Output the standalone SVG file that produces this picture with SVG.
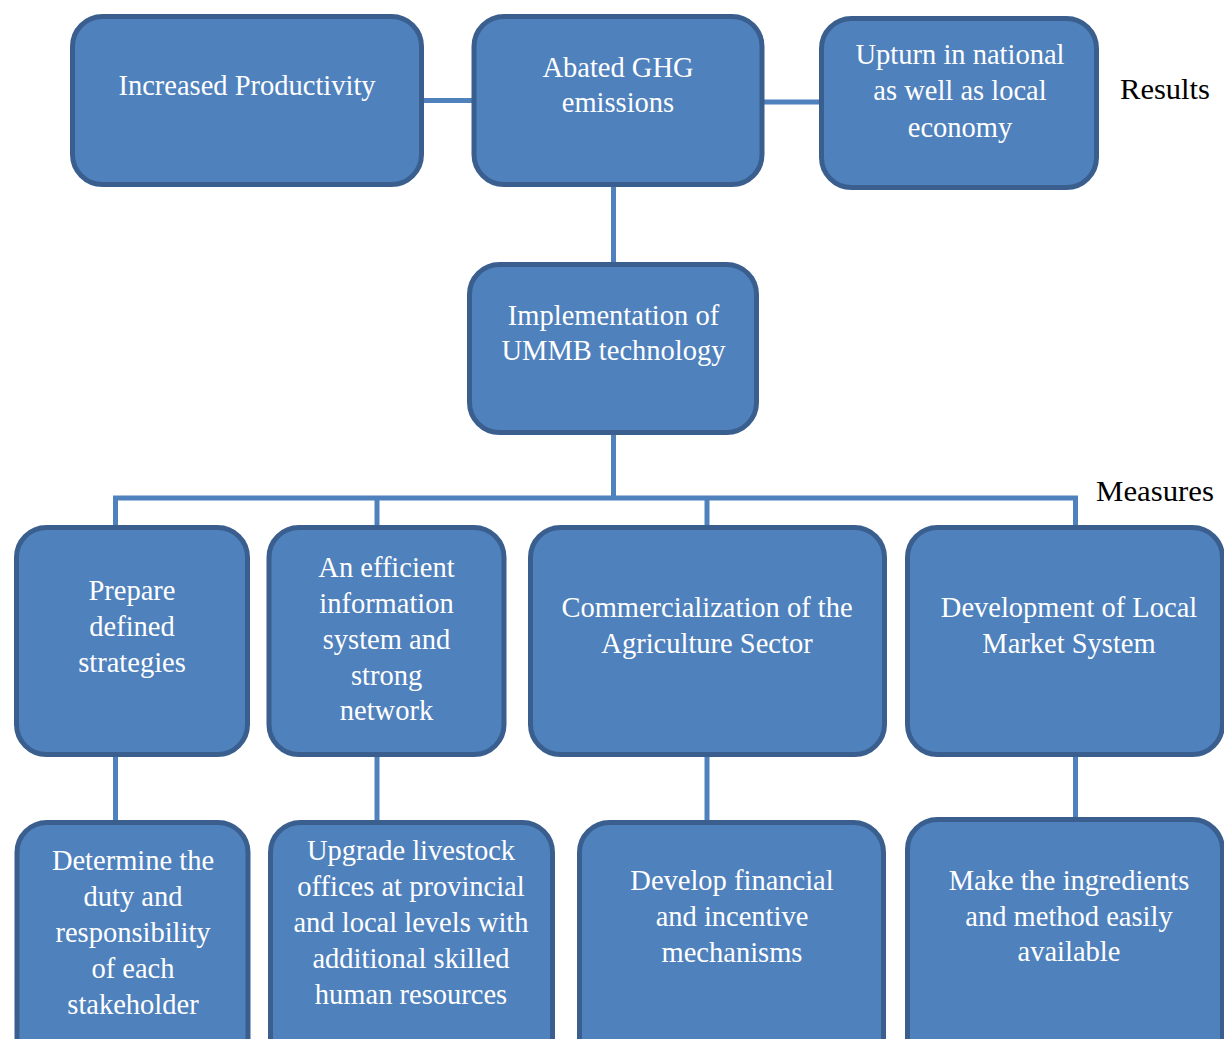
<svg xmlns="http://www.w3.org/2000/svg" width="1224" height="1039" viewBox="0 0 1224 1039">
  <style>
    .box { fill: #4f81bd; stroke: #3a5f8e; stroke-width: 5; }
    .lbl { font-family: "Liberation Serif", "Times New Roman", serif; font-size: 28.5px; fill: #ffffff; text-anchor: middle; }
    .side { font-family: "Liberation Serif", "Times New Roman", serif; font-size: 29px; fill: #000000; }
    .wire { stroke: #4f81bd; stroke-width: 5; fill: none; }
  </style>
  <rect width="1224" height="1039" fill="#ffffff"/>

  <!-- connectors -->
  <g id="connectors">
    <line class="wire" x1="422" y1="100.5" x2="474" y2="100.5"/>
    <line class="wire" x1="762" y1="102" x2="821" y2="102"/>
    <line class="wire" x1="613.5" y1="185" x2="613.5" y2="264"/>
    <line class="wire" x1="613.5" y1="433" x2="613.5" y2="498"/>
    <polyline class="wire" points="115.5,527 115.5,498 1075.5,498 1075.5,527"/>
    <line class="wire" x1="377" y1="498" x2="377" y2="527"/>
    <line class="wire" x1="707" y1="498" x2="707" y2="527"/>
    <line class="wire" x1="115.5" y1="755" x2="115.5" y2="822"/>
    <line class="wire" x1="377" y1="755" x2="377" y2="822"/>
    <line class="wire" x1="707" y1="755" x2="707" y2="822"/>
    <line class="wire" x1="1075.5" y1="755" x2="1075.5" y2="819"/>
  </g>

  <!-- results row -->
  <g id="increased-productivity">
    <rect class="box" x="72.5" y="16.5" width="349" height="168" rx="30"/>
    <text class="lbl" x="247" y="95">Increased Productivity</text>
  </g>
  <g id="abated-ghg">
    <rect class="box" x="474" y="16.5" width="288" height="168" rx="30"/>
    <text class="lbl" x="618" y="77">Abated GHG</text>
    <text class="lbl" x="618" y="112">emissions</text>
  </g>
  <g id="upturn-economy">
    <rect class="box" x="821.5" y="18.5" width="275" height="169" rx="30"/>
    <text class="lbl" x="960" y="64">Upturn in national</text>
    <text class="lbl" x="960" y="100">as well as local</text>
    <text class="lbl" x="960" y="137">economy</text>
  </g>
  <text class="side" x="1120" y="99" textLength="90" lengthAdjust="spacingAndGlyphs">Results</text>

  <!-- central measure -->
  <g id="ummb-implementation">
    <rect class="box" x="469.5" y="264.5" width="287" height="168" rx="30"/>
    <text class="lbl" x="613.5" y="325">Implementation of</text>
    <text class="lbl" x="613.5" y="360">UMMB technology</text>
  </g>
  <text class="side" x="1096" y="501" textLength="118" lengthAdjust="spacingAndGlyphs">Measures</text>

  <!-- measures row -->
  <g id="prepare-strategies">
    <rect class="box" x="16.5" y="527.5" width="231" height="227" rx="30"/>
    <text class="lbl" x="132" y="600">Prepare</text>
    <text class="lbl" x="132" y="636">defined</text>
    <text class="lbl" x="132" y="672">strategies</text>
  </g>
  <g id="information-system">
    <rect class="box" x="269" y="527.5" width="235" height="227" rx="30"/>
    <text class="lbl" x="386.5" y="577">An efficient</text>
    <text class="lbl" x="386.5" y="613">information</text>
    <text class="lbl" x="386.5" y="649">system and</text>
    <text class="lbl" x="386.5" y="685">strong</text>
    <text class="lbl" x="386.5" y="720">network</text>
  </g>
  <g id="commercialization">
    <rect class="box" x="530.5" y="527.5" width="354" height="227" rx="30"/>
    <text class="lbl" x="707" y="617">Commercialization of the</text>
    <text class="lbl" x="707" y="653">Agriculture Sector</text>
  </g>
  <g id="local-market">
    <rect class="box" x="907.5" y="527.5" width="315" height="227" rx="30"/>
    <text class="lbl" x="1069" y="617">Development of Local</text>
    <text class="lbl" x="1069" y="653">Market System</text>
  </g>

  <!-- actions row -->
  <g id="duty-responsibility">
    <rect class="box" x="17" y="822.5" width="231" height="250" rx="30"/>
    <text class="lbl" x="133" y="870">Determine the</text>
    <text class="lbl" x="133" y="906">duty and</text>
    <text class="lbl" x="133" y="942">responsibility</text>
    <text class="lbl" x="133" y="978">of each</text>
    <text class="lbl" x="133" y="1014">stakeholder</text>
  </g>
  <g id="upgrade-offices">
    <rect class="box" x="270.5" y="822.5" width="282" height="250" rx="30"/>
    <text class="lbl" x="411" y="860">Upgrade livestock</text>
    <text class="lbl" x="411" y="896">offices at provincial</text>
    <text class="lbl" x="411" y="932">and local levels with</text>
    <text class="lbl" x="411" y="968">additional skilled</text>
    <text class="lbl" x="411" y="1004">human resources</text>
  </g>
  <g id="financial-mechanisms">
    <rect class="box" x="579.5" y="822.5" width="304" height="250" rx="30"/>
    <text class="lbl" x="732" y="890">Develop financial</text>
    <text class="lbl" x="732" y="926">and incentive</text>
    <text class="lbl" x="732" y="962">mechanisms</text>
  </g>
  <g id="ingredients-available">
    <rect class="box" x="907.5" y="819.5" width="315" height="250" rx="30"/>
    <text class="lbl" x="1069" y="890">Make the ingredients</text>
    <text class="lbl" x="1069" y="926">and method easily</text>
    <text class="lbl" x="1069" y="961">available</text>
  </g>
</svg>
